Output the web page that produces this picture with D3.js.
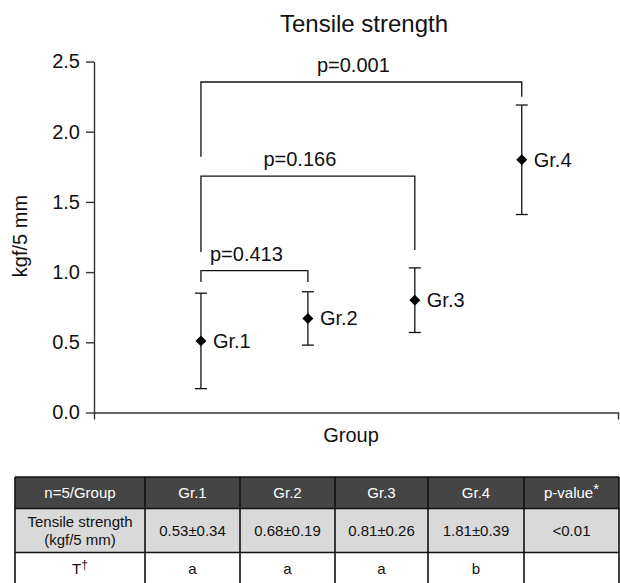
<!DOCTYPE html>
<html>
<head>
<meta charset="utf-8">
<script src="https://cdn.jsdelivr.net/npm/d3@7"></script>
<style>
  body { margin: 0; background: #fff; }
  svg { display: block; font-family: "Liberation Sans", Arial, sans-serif; }
  .axis path, .axis line { stroke: #333; stroke-width: 1.4; }
  .axis text { font-size: 20px; fill: #111; font-family: "Liberation Sans", Arial, sans-serif; }
</style>
</head>
<body>
<div id="chart"></div>
<script>
const groups = ['Gr.1', 'Gr.2', 'Gr.3', 'Gr.4'];
const means = [0.51, 0.67, 0.80, 1.80];
const errors = [0.34, 0.19, 0.23, 0.39];
const yTicks = [0, 0.5, 1.0, 1.5, 2.0, 2.5];

// comparisons: from group index, to group index, bracket level, leg ends, label
const compFrom = [0, 0, 0];
const compTo = [1, 2, 3];
const compLevel = [1.01, 1.684, 2.354];
const compLegFrom = [0.93, 1.143, 1.822];
const compLegTo = [0.93, 1.157, 2.249];
const compLabels = ['p=0.413', 'p=0.166', 'p=0.001'];

const tableHead = ['n=5/Group', 'Gr.1', 'Gr.2', 'Gr.3', 'Gr.4', 'p-value'];
const tableStrength = ['Tensile strength|(kgf/5 mm)', '0.53±0.34', '0.68±0.19', '0.81±0.26', '1.81±0.39', '<0.01'];
const tableT = ['T', 'a', 'a', 'a', 'b', ''];

const W = 620, H = 583;

const svg = d3.select('#chart').append('svg')
  .attr('width', W)
  .attr('height', H);

const xScale = d3.scaleLinear()
  .domain([0, 4.9])
  .range([94, 618]);

const yScale = d3.scaleLinear()
  .domain([0, 2.5])
  .range([412.5, 61.5]);

// title
svg.append('text')
  .attr('x', 364)
  .attr('y', 32)
  .attr('text-anchor', 'middle')
  .style('font-size', '24px')
  .style('fill', '#111')
  .text('Tensile strength');

// axes
svg.append('g')
  .attr('class', 'axis')
  .attr('transform', 'translate(0,' + yScale(0) + ')')
  .call(d3.axisBottom(xScale).tickValues([]).tickSizeOuter(7));

svg.append('g')
  .attr('class', 'axis')
  .attr('transform', 'translate(' + xScale(0) + ',0)')
  .call(d3.axisLeft(yScale).tickValues(yTicks).tickSize(8).tickSizeOuter(0).tickPadding(6)
    .tickFormat(d3.format('.1f')));

svg.append('text')
  .attr('x', 351)
  .attr('y', 442)
  .attr('text-anchor', 'middle')
  .style('font-size', '20px')
  .style('fill', '#111')
  .text('Group');

svg.append('text')
  .attr('transform', 'rotate(-90)')
  .attr('x', -236)
  .attr('y', 27)
  .attr('text-anchor', 'middle')
  .style('font-size', '20px')
  .style('fill', '#111')
  .text('kgf/5 mm');

// brackets
compLabels.map((label, i) => {
  let x1 = xScale(compFrom[i] + 1);
  let x2 = xScale(compTo[i] + 1);
  let yl = yScale(compLevel[i]);

  svg.append('path')
    .attr('d', 'M' + x1 + ',' + yScale(compLegFrom[i]) + 'V' + yl + 'H' + x2 + 'V' + yScale(compLegTo[i]))
    .attr('fill', 'none')
    .attr('stroke', '#111')
    .attr('stroke-width', 1.3);

  svg.append('text')
    .attr('x', (x1 + x2) / 2 - 8)
    .attr('y', yl - 10)
    .attr('text-anchor', 'middle')
    .style('font-size', '20px')
    .style('fill', '#111')
    .text(label);
});

// error bars and points
groups.map((g, i) => {
  let cx = xScale(i + 1);
  let top = yScale(means[i] + errors[i]);
  let bottom = yScale(means[i] - errors[i]);

  svg.append('line')
    .attr('x1', cx).attr('x2', cx)
    .attr('y1', top).attr('y2', bottom)
    .attr('stroke', '#111').attr('stroke-width', 1.3);

  [top, bottom].map((y) => {
    svg.append('line')
      .attr('x1', cx - 6).attr('x2', cx + 6)
      .attr('y1', y).attr('y2', y)
      .attr('stroke', '#111').attr('stroke-width', 1.3);
  });

  svg.append('path')
    .attr('d', d3.symbol().type(d3.symbolSquare).size(60)())
    .attr('transform', 'translate(' + cx + ',' + yScale(means[i]) + ') rotate(45)')
    .attr('fill', '#000');

  svg.append('text')
    .attr('x', cx + 12)
    .attr('y', yScale(means[i]))
    .attr('dy', '0.35em')
    .style('font-size', '20px')
    .style('fill', '#111')
    .text(g);
});

// table
const colWidths = [130, 95, 95, 93, 96, 95];
const colX = [15];
colWidths.forEach((w, i) => colX.push(colX[i] + w));
const rowY = [477, 508.5, 552.5, 595];
const rows = [tableHead, tableStrength, tableT];
const rowFill = ['#454545', '#d9d9d9', '#ffffff'];
const rowText = ['#ffffff', '#111', '#111'];

const table = svg.append('g');

rows.map((row, r) => {
  table.append('rect')
    .attr('x', colX[0])
    .attr('y', rowY[r])
    .attr('width', colX[colX.length - 1] - colX[0])
    .attr('height', rowY[r + 1] - rowY[r])
    .attr('fill', rowFill[r]);

  row.map((cell, c) => {
    let cx = (colX[c] + colX[c + 1]) / 2;
    let cy = (rowY[r] + rowY[r + 1]) / 2;
    if (r == 2) cy = 569;
    let lines = cell.split('|');
    let t = table.append('text')
      .attr('text-anchor', 'middle')
      .style('font-size', '15px')
      .style('fill', rowText[r]);

    lines.map((ln, k) => {
      t.append('tspan')
        .attr('x', cx)
        .attr('y', cy + (k - (lines.length - 1) / 2) * 18)
        .attr('dy', '0.35em')
        .text(ln);
    });

    if (r == 0 && c == 5) {
      t.append('tspan').attr('dy', '-0.3em').style('font-size', '15px').text('*');
    }
    if (r == 2 && c == 0) {
      t.append('tspan').attr('dy', '-0.45em').style('font-size', '12px').text('†');
    }
  });
});

// grid lines
colX.map((x) => {
  table.append('line')
    .attr('x1', x).attr('x2', x)
    .attr('y1', rowY[0]).attr('y2', rowY[3])
    .attr('stroke', '#111').attr('stroke-width', 1.6);
});
rowY.map((y) => {
  table.append('line')
    .attr('x1', colX[0]).attr('x2', colX[colX.length - 1])
    .attr('y1', y).attr('y2', y)
    .attr('stroke', '#111').attr('stroke-width', 1.6);
});
</script>
</body>
</html>
